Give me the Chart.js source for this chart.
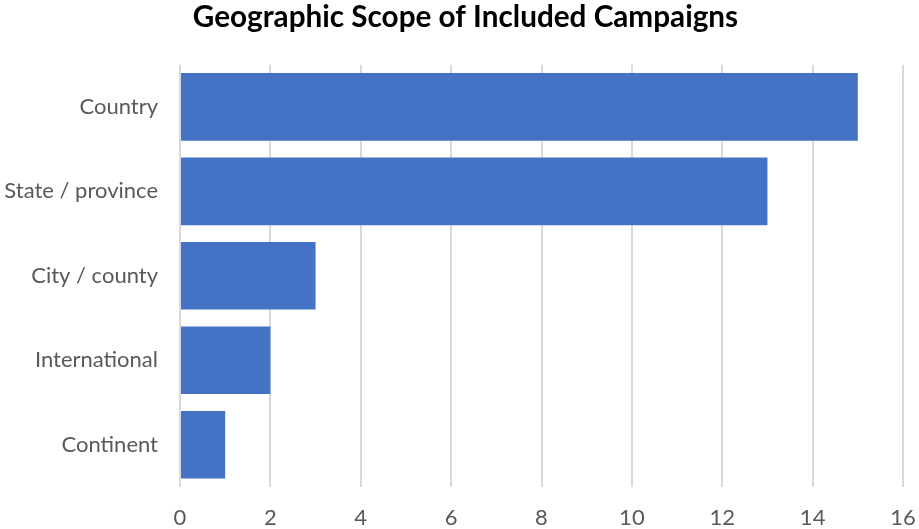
<!DOCTYPE html>
<html>
<head>
<meta charset="utf-8">
<script src="https://cdn.jsdelivr.net/npm/chart.js@4/dist/chart.umd.min.js"></script>
<style>
html,body{margin:0;padding:0;background:#fff;}
#wrap{width:919px;height:529px;position:relative;}
</style>
</head>
<body>
<div id="wrap"><canvas id="c"></canvas></div>
<script>
const categories = ["Country", "State / province", "City / county", "International", "Continent"];
const campaignCounts = [15, 13, 3, 2, 1];
const xTicks = [0, 2, 4, 6, 8, 10, 12, 14, 16];
const chartTitle = "Geographic Scope of Included Campaigns";

const FONT = "Lato, 'Open Sans', sans-serif";

// centre the title over the whole picture (as in the reference), not over the padded box
const titleShift = {
  id: 'titleShift',
  afterLayout(chart) {
    const t = chart.titleBlock;
    if (t) { t.left += 14; t.right += 14; }
  }
};

new Chart(document.getElementById('c'), {
  type: 'bar',
  data: {
    labels: categories,
    datasets: [{
      data: campaignCounts,
      backgroundColor: '#4472C4',
      borderWidth: 0,
      barPercentage: 0.8,
      categoryPercentage: 1.0
    }]
  },
  plugins: [titleShift],
  options: {
    indexAxis: 'y',
    responsive: true,
    maintainAspectRatio: false,
    animation: false,
    layout: { padding: { left: 0, right: 16, top: 0, bottom: 0 } },
    plugins: {
      legend: { display: false },
      tooltip: { enabled: false },
      title: {
        display: true,
        text: chartTitle,
        color: '#000000',
        font: { family: FONT, size: 29.7, weight: 'bold' },
        padding: { top: 0, bottom: 29 }
      }
    },
    scales: {
      x: {
        min: 0,
        max: 16,
        afterBuildTicks: (scale) => { scale.ticks = xTicks.map(v => ({ value: v })); },
        afterFit: (scale) => { scale.height = 42; scale.paddingRight = 0; scale.paddingLeft = 0; },
        ticks: {
          color: '#595959',
          font: { family: FONT, size: 22 },
          padding: 18
        },
        grid: {
          color: '#d9d9d9',
          lineWidth: 2,
          drawTicks: false
        },
        border: { display: false }
      },
      y: {
        afterFit: (scale) => { scale.width = 180; },
        ticks: {
          color: '#595959',
          font: { family: FONT, size: 22 },
          padding: 22
        },
        grid: { display: false, drawTicks: false },
        border: { display: false }
      }
    }
  }
});
</script>
</body>
</html>
